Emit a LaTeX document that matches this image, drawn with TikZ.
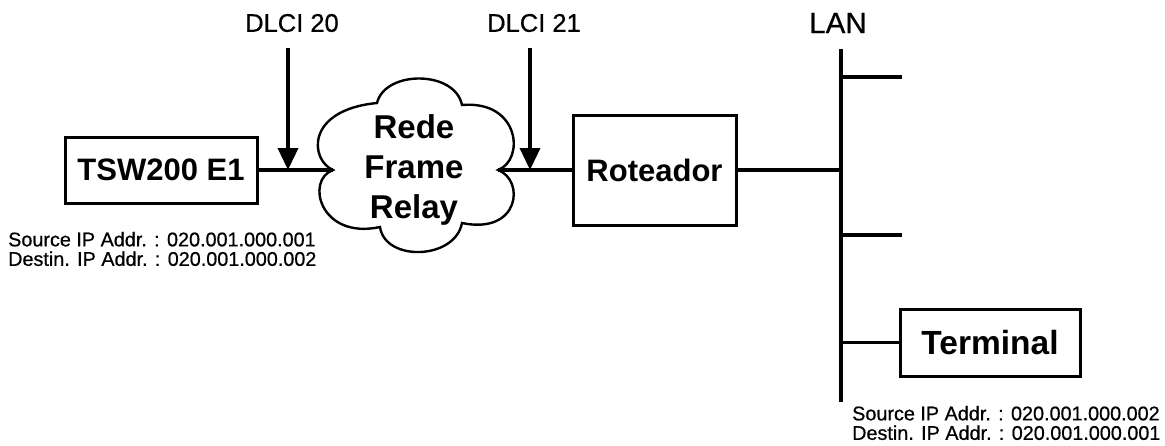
\documentclass[tikz,border=0pt]{standalone}
\usepackage{fontspec}
\setmainfont{Liberation Sans}
\newfontfamily\heavyfont[FakeBold=0.6]{Liberation Sans}
\usetikzlibrary{arrows.meta}
\begin{document}
\begin{tikzpicture}[x=1pt,y=-1pt,
  conn/.style={line width=3.6pt},
  boxnode/.style={draw, line width=3pt, inner sep=0pt, font=\bfseries\fontsize{31}{36}\selectfont},
  lbl/.style={inner sep=0pt, font=\heavyfont\fontsize{25.5}{30}\selectfont},
  addr/.style={inner sep=0pt, anchor=west, align=left, font=\heavyfont\fontsize{19.8}{19.5}\selectfont},
  dlciarrow/.style={line width=3.6pt, -{Triangle[length=22pt,width=20pt]}}
]
\useasboundingbox (0,0) rectangle (1165,445);

% boxes
\node[boxnode, minimum width=192pt, minimum height=66pt] (tsw) at (161,170) {TSW200 E1};
\node[boxnode, minimum width=163pt, minimum height=110pt] (rot) at (654.5,170) {Roteador};
\node[boxnode, minimum width=180pt, minimum height=67pt, font=\bfseries\fontsize{33.5}{38}\selectfont] (term) at (990,342.5) {Terminal};

% cloud
\coordinate (cl) at (333,170);
\coordinate (ctl) at (377,103);
\coordinate (ctr) at (462,105);
\coordinate (cr) at (498,170);
\coordinate (cbr) at (462,223);
\coordinate (cbl) at (380,227);
\draw[line width=2.4pt, line join=miter]
  (cl) .. controls (310,160) and (305,110) .. (ctl)
       .. controls (385,70) and (455,70) .. (ctr)
       .. controls (520,100) and (525,160) .. (cr)
       .. controls (525,180) and (520,235) .. (cbr)
       .. controls (455,260) and (385,262) .. (cbl)
       .. controls (320,240) and (305,180) .. (cl) -- cycle;
\node[inner sep=0pt, align=center, font=\bfseries\fontsize{33}{40}\selectfont] (cloudtxt) at (414,170) {Rede\\Frame\\Relay};

% labels
\node[lbl] (dlci20) at (292,23) {DLCI 20};
\node[lbl] (dlci21) at (534,23) {DLCI 21};
\node[lbl, font=\heavyfont\fontsize{29.5}{34}\selectfont] (lan) at (838,23) {LAN};

% junctions
\coordinate (j1) at (288,170);
\coordinate (j2) at (530,170);
\coordinate (a1) at (288,48);
\coordinate (a2) at (530,48);

% connectors
\draw[conn] (tsw.east) -- (cl);
\draw[conn] (cr) -- (rot.west);
\draw[dlciarrow] (a1) -- (j1);
\draw[dlciarrow] (a2) -- (j2);

% LAN bus
\coordinate (lantop) at (841,49);
\coordinate (lanbot) at (841,402);
\coordinate (lanmid) at (841,170);
\coordinate (b1) at (841,77);
\coordinate (b1e) at (902,77);
\coordinate (b2) at (841,235);
\coordinate (b2e) at (902,235);
\coordinate (b3) at (841,342.5);
\draw[conn] (lantop) -- (lanbot);
\draw[conn] (rot.east) -- (lanmid);
\draw[conn] (b1) -- (b1e);
\draw[conn] (b2) -- (b2e);
\draw[conn] (b3) -- (term.west);

% addresses
\node[addr] (addr1) at (8,249) {Source IP Addr. : 020.001.000.001\\Destin. IP Addr. : 020.001.000.002};
\node[addr] (addr2) at (852,423) {Source IP Addr. : 020.001.000.002\\Destin. IP Addr. : 020.001.000.001};
\end{tikzpicture}
\end{document}
